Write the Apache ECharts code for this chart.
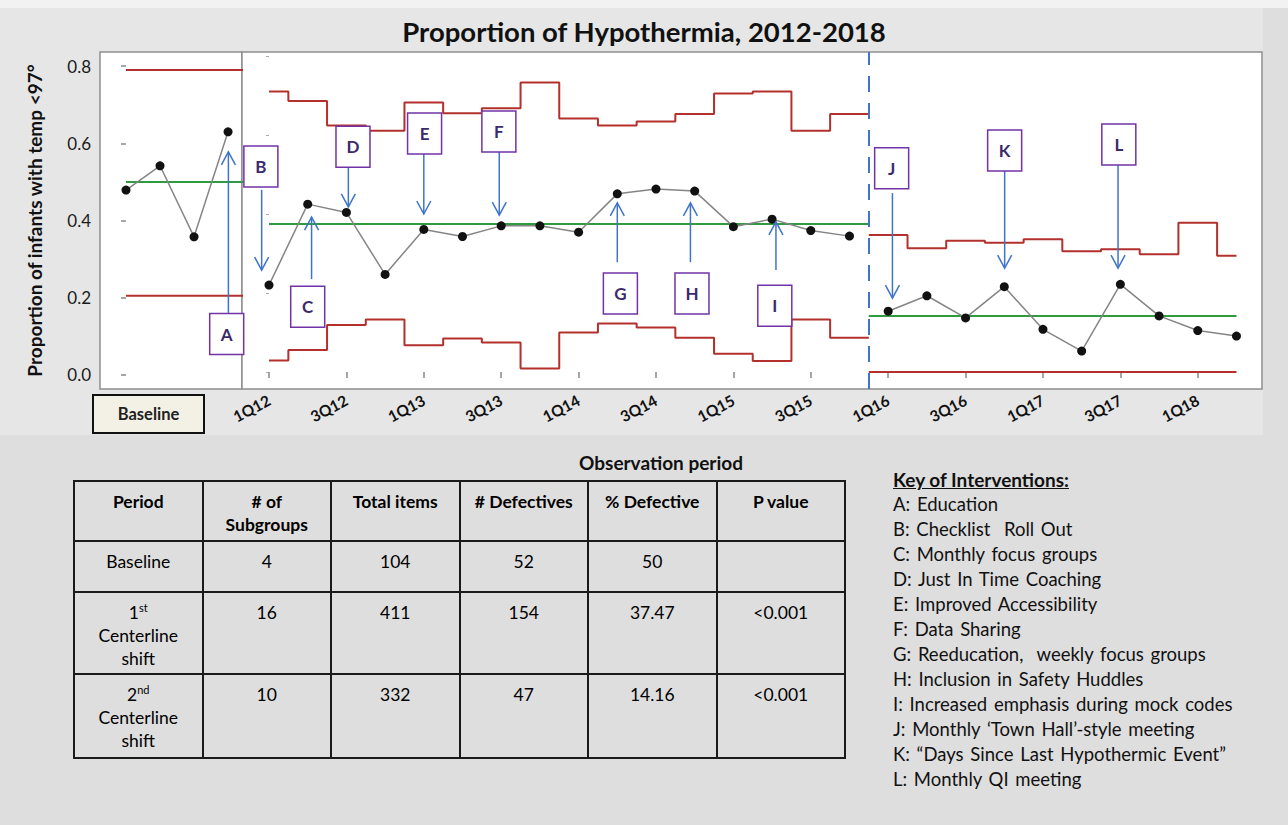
<!DOCTYPE html>
<html>
<head>
<meta charset="utf-8">
<title>Proportion of Hypothermia, 2012-2018</title>
<script src="https://cdn.jsdelivr.net/npm/echarts@6/dist/echarts.min.js"></script>
<style>
  html, body { margin: 0; padding: 0; background: #dedede; }
  #chart { position: absolute; left: 0; top: 0; width: 1288px; height: 825px; }
  #stats { position: absolute; left: 73px; top: 480px; width: 773px; border-collapse: collapse; table-layout: fixed;
           font-family: Lato, "Open Sans", sans-serif; font-size: 17.5px; color: #000; }
  #stats th, #stats td { border: 2px solid #1a1a1a; text-align: center; vertical-align: top;
                         padding: 8px 2px 0 2px; line-height: 23px; box-sizing: border-box; }
  #stats th { font-weight: bold; height: 60px; }
  #stats tr.r1 td { height: 51px; }
  #stats tr.r2 td { height: 82px; }
  #stats tr.r3 td { height: 84px; }
  #stats sup { font-size: 11px; line-height: 0; vertical-align: 7px; }
  #key { position: absolute; left: 893px; top: 467px; font-family: Lato, "Open Sans", sans-serif;
         font-size: 18.5px; line-height: 25px; word-spacing: 2px; color: #111; }
  #key .head { font-weight: bold; text-decoration: underline; font-size: 19px; word-spacing: 0; }
</style>
</head>
<body>
<div id="chart"></div>
<table id="stats"></table>
<div id="key"></div>
<script>
// quarters on the main chart
const quarters = ["1Q12", "2Q12", "3Q12", "4Q12", "1Q13", "2Q13", "3Q13", "4Q13",
  "1Q14", "2Q14", "3Q14", "4Q14", "1Q15", "2Q15", "3Q15", "4Q15",
  "1Q16", "2Q16", "3Q16", "4Q16", "1Q17", "2Q17", "3Q17", "4Q17", "1Q18", "2Q18"];
const tickLabels = ["1Q12", "3Q12", "1Q13", "3Q13", "1Q14", "3Q14", "1Q15", "3Q15",
  "1Q16", "3Q16", "1Q17", "3Q17", "1Q18"];
const yTicks = [0, 0.2, 0.4, 0.6, 0.8];

// baseline period (4 subgroups)
const baselineValues = [0.479, 0.542, 0.358, 0.630];
const baselineCenter = 0.50;
const baselineUCL = 0.79;
const baselineLCL = 0.205;

// 1st centerline shift (1Q12 - 4Q15)
const phase1Values = [0.220, 0.425, 0.404, 0.247, 0.361, 0.343, 0.370, 0.370,
  0.354, 0.451, 0.463, 0.458, 0.368, 0.387, 0.358, 0.344];
const phase1UCL = [0.710, 0.686, 0.624, 0.611, 0.682, 0.655, 0.668, 0.733,
  0.642, 0.624, 0.634, 0.653, 0.705, 0.710, 0.611, 0.653];
const phase1LCL = [0.029, 0.056, 0.119, 0.133, 0.068, 0.085, 0.075, 0.009,
  0.100, 0.123, 0.113, 0.087, 0.046, 0.028, 0.133, 0.087];
const phase1Center = 0.3747;

// 2nd centerline shift (1Q16 - 2Q18)
const phase2Values = [0.154, 0.193, 0.137, 0.216, 0.108, 0.053, 0.222, 0.142, 0.105, 0.091];
const phase2UCL = [0.347, 0.313, 0.332, 0.327, 0.336, 0.306, 0.311, 0.298, 0.378, 0.294];
const phase2LCL = [0, 0, 0, 0, 0, 0, 0, 0, 0, 0];
const phase2Center = 0.1416;

// interventions: letter, x (quarter index), box value, arrow tail value, arrow tip value
const annLetters = ["A", "B", "C", "D", "E", "F", "G", "H", "I", "J", "K", "L"];
const annGrid = [0, 1, 1, 1, 1, 1, 1, 1, 1, 1, 1, 1];
const annArrowX = [3.01, -0.19, 1.10, 2.05, 4.00, 5.95, 9.00, 10.89, 13.10, 16.11, 19.01, 21.94];
const annBoxX = [2.96, -0.21, 1.00, 2.17, 4.02, 5.94, 9.08, 10.93, 13.07, 16.09, 19.01, 21.96];
const annBoxY = [0.106, 0.520, 0.165, 0.570, 0.604, 0.609, 0.199, 0.199, 0.168, 0.516, 0.561, 0.576];
const annTail = [0.161, 0.461, 0.235, 0.519, 0.554, 0.557, 0.278, 0.278, 0.258, 0.453, 0.509, 0.524];
const annTip = [0.578, 0.258, 0.392, 0.418, 0.400, 0.397, 0.428, 0.428, 0.380, 0.187, 0.263, 0.263];

// summary table
const tableHeader = ["Period", "# of<br>Subgroups", "Total items", "# Defectives", "% Defective", "P value"];
const periods = ["Baseline", "1<sup>st</sup><br>Centerline<br>shift", "2<sup>nd</sup><br>Centerline<br>shift"];
const subgroups = [4, 16, 10];
const totalItems = [104, 411, 332];
const defectives = [52, 154, 47];
const pctDefective = ["50", "37.47", "14.16"];
const pValues = ["", "&lt;0.001", "&lt;0.001"];

const keyItems = [
  "A: Education",
  "B: Checklist&nbsp; Roll Out",
  "C: Monthly focus groups",
  "D: Just In Time Coaching",
  "E: Improved Accessibility",
  "F: Data Sharing",
  "G: Reeducation,&nbsp; weekly focus groups",
  "H: Inclusion in Safety Huddles",
  "I: Increased emphasis during mock codes",
  "J: Monthly \u2018Town Hall\u2019-style meeting",
  "K: \u201CDays Since Last Hypothermic Event\u201D",
  "L: Monthly QI meeting"
];

const RED = "#b3302c", GREEN = "#2f9a3f", BLUE = "#3f74c8", PURPLE = "#7233a8";
const FONT = "Lato, 'Open Sans', sans-serif";

const split = phase1Values.length - 0.5;
const tickIdx = tickLabels.map(l => quarters.indexOf(l));
const pts = (vals, offset) => vals.map((v, i) => [offset + i, v]);
const off2 = phase1Values.length;

function pointSeries(name, xi, data) {
  return {
    name, type: "line", xAxisIndex: xi, yAxisIndex: xi, data, z: 4,
    symbol: "circle", symbolSize: 9,
    itemStyle: { color: "#111" },
    lineStyle: { color: "#858585", width: 1.5 }
  };
}
function limitSeries(name, xi, data, color, step) {
  return {
    name, type: "line", xAxisIndex: xi, yAxisIndex: xi, data, step: step || false,
    symbol: "none", z: 2, lineStyle: { color, width: 2 }
  };
}

const option = {
  backgroundColor: "#dedede",
  animation: false,
  title: {
    text: "Proportion of Hypothermia, 2012-2018", left: "center", top: 12,
    textStyle: { fontFamily: FONT, fontWeight: "bold", fontSize: 27.5, color: "#111" }
  },
  grid: [
    { left: 100, top: 52, width: 142, height: 337, show: true, backgroundColor: "#fff",
      borderColor: "#8f8f8f", borderWidth: 1.5 },
    { left: 242, top: 52, width: 1020, height: 337, show: true, backgroundColor: "#fff",
      borderColor: "#8f8f8f", borderWidth: 1.5 }
  ],
  xAxis: [
    { gridIndex: 0, type: "value", min: -0.765, max: 3.41, show: false },
    { gridIndex: 1, type: "value", min: -0.698, max: 25.66,
      axisLine: { show: false }, splitLine: { show: false },
      axisTick: { show: true, customValues: tickIdx, length: 6, lineStyle: { color: "#888", width: 1.5 } },
      axisLabel: { customValues: tickIdx, formatter: v => quarters[Math.round(v)], rotate: 28,
        fontFamily: FONT, fontWeight: "bold", fontSize: 15.5, color: "#111", margin: 10 } }
  ],
  yAxis: [
    { gridIndex: 0, type: "value", min: -0.0363, max: 0.8368,
      axisLine: { show: false }, splitLine: { show: false },
      axisTick: { show: true, customValues: yTicks, length: 5, lineStyle: { color: "#888", width: 1.5 } },
      axisLabel: { customValues: yTicks, formatter: v => v.toFixed(1), fontFamily: FONT,
        fontSize: 17, color: "#1a1a1a", margin: 9 },
      name: "Proportion of infants with temp <97\u00B0", nameLocation: "middle", nameRotate: 90, nameGap: 56,
      nameTextStyle: { fontFamily: FONT, fontWeight: "bold", fontSize: 19, color: "#111" } },
    { gridIndex: 1, type: "value", min: -0.043, max: 0.8101,
      axisLine: { show: false }, splitLine: { show: false }, axisLabel: { show: false },
      axisTick: { show: true, customValues: yTicks, length: 3, lineStyle: { color: "#aaa" } } }
  ],
  series: [
    // baseline panel
    limitSeries("Baseline UCL", 0, [[0, baselineUCL], [3.5, baselineUCL]], RED),
    limitSeries("Baseline LCL", 0, [[0, baselineLCL], [3.5, baselineLCL]], RED),
    limitSeries("Baseline CL", 0, [[0, baselineCenter], [3.5, baselineCenter]], GREEN),
    pointSeries("Baseline", 0, pts(baselineValues, 0)),
    // 1st shift
    Object.assign(limitSeries("UCL 1", 1, pts(phase1UCL, 0).concat([[split, phase1UCL[phase1UCL.length - 1]]]), RED, "middle"), {
      markLine: { symbol: "none", silent: true, label: { show: false },
        lineStyle: { color: BLUE, width: 2, type: [16, 11] }, data: [{ xAxis: split }] }
    }),
    limitSeries("LCL 1", 1, pts(phase1LCL, 0).concat([[split, phase1LCL[phase1LCL.length - 1]]]), RED, "middle"),
    limitSeries("CL 1", 1, [[0, phase1Center], [split, phase1Center]], GREEN),
    pointSeries("Shift 1", 1, pts(phase1Values, 0)),
    // 2nd shift
    limitSeries("UCL 2", 1, [[split, phase2UCL[0]]].concat(pts(phase2UCL, off2)), RED, "middle"),
    limitSeries("LCL 2", 1, [[split, phase2LCL[0]]].concat(pts(phase2LCL, off2)), RED, "middle"),
    limitSeries("CL 2", 1, [[split, phase2Center], [off2 + phase2Values.length - 1, phase2Center]], GREEN),
    pointSeries("Shift 2", 1, pts(phase2Values, off2))
  ]
};

const chart = echarts.init(document.getElementById("chart"), null, { renderer: "svg" });
chart.setOption(option);

// page decoration, "Baseline" box, axis title and intervention callouts
const graphic = [
  { type: "rect", z: -5, shape: { x: 0, y: 0, width: 1288, height: 8 }, style: { fill: "#f2f2f2" } },
  { type: "rect", z: -5, shape: { x: 0, y: 8, width: 1263, height: 427 }, style: { fill: "#e6e6e6" } },
  { type: "rect", z: 10, shape: { x: 93, y: 395, width: 111, height: 38 },
    style: { fill: "#f3f1e6", stroke: "#111", lineWidth: 2 } },
  { type: "text", z: 11, x: 148.5, y: 414,
    style: { text: "Baseline", fill: "#222", font: "bold 16.5px " + FONT, align: "center", verticalAlign: "middle" } },
  { type: "text", z: 11, x: 661, y: 462,
    style: { text: "Observation period", fill: "#111", font: "bold 19px " + FONT, align: "center", verticalAlign: "middle" } }
];
annLetters.forEach((letter, i) => {
  const g = { gridIndex: annGrid[i] };
  const tail = chart.convertToPixel(g, [annArrowX[i], annTail[i]]);
  const tip = chart.convertToPixel(g, [annArrowX[i], annTip[i]]);
  const box = chart.convertToPixel(g, [annBoxX[i], annBoxY[i]]);
  const dir = tip[1] > tail[1] ? -1 : 1;
  graphic.push(
    { type: "line", z: 20, shape: { x1: tail[0], y1: tail[1], x2: tip[0], y2: tip[1] },
      style: { stroke: BLUE, lineWidth: 1.5 } },
    { type: "polyline", z: 20,
      shape: { points: [[tip[0] - 7, tip[1] + dir * 13], [tip[0], tip[1]], [tip[0] + 7, tip[1] + dir * 13]] },
      style: { stroke: BLUE, lineWidth: 1.5, fill: null } },
    { type: "rect", z: 21, shape: { x: box[0] - 17, y: box[1] - 20.5, width: 34, height: 41 },
      style: { fill: "#fff", stroke: PURPLE, lineWidth: 1.5 } },
    { type: "text", z: 22, x: box[0], y: box[1],
      style: { text: letter, fill: "#3b2a6c", font: "bold 17px " + FONT, align: "center", verticalAlign: "middle" } }
  );
});
chart.setOption({ graphic });

// summary table
const cols = [periods, subgroups, totalItems, defectives, pctDefective, pValues];
let html = "<tr>" + tableHeader.map(h => "<th>" + h + "</th>").join("") + "</tr>";
periods.forEach((p, r) => {
  html += '<tr class="r' + (r + 1) + '">' + cols.map(c => "<td>" + c[r] + "</td>").join("") + "</tr>";
});
document.getElementById("stats").innerHTML = html;

// key of interventions
document.getElementById("key").innerHTML =
  '<div class="head">Key of Interventions:</div>' + keyItems.map(k => "<div>" + k + "</div>").join("");
</script>
</body>
</html>
